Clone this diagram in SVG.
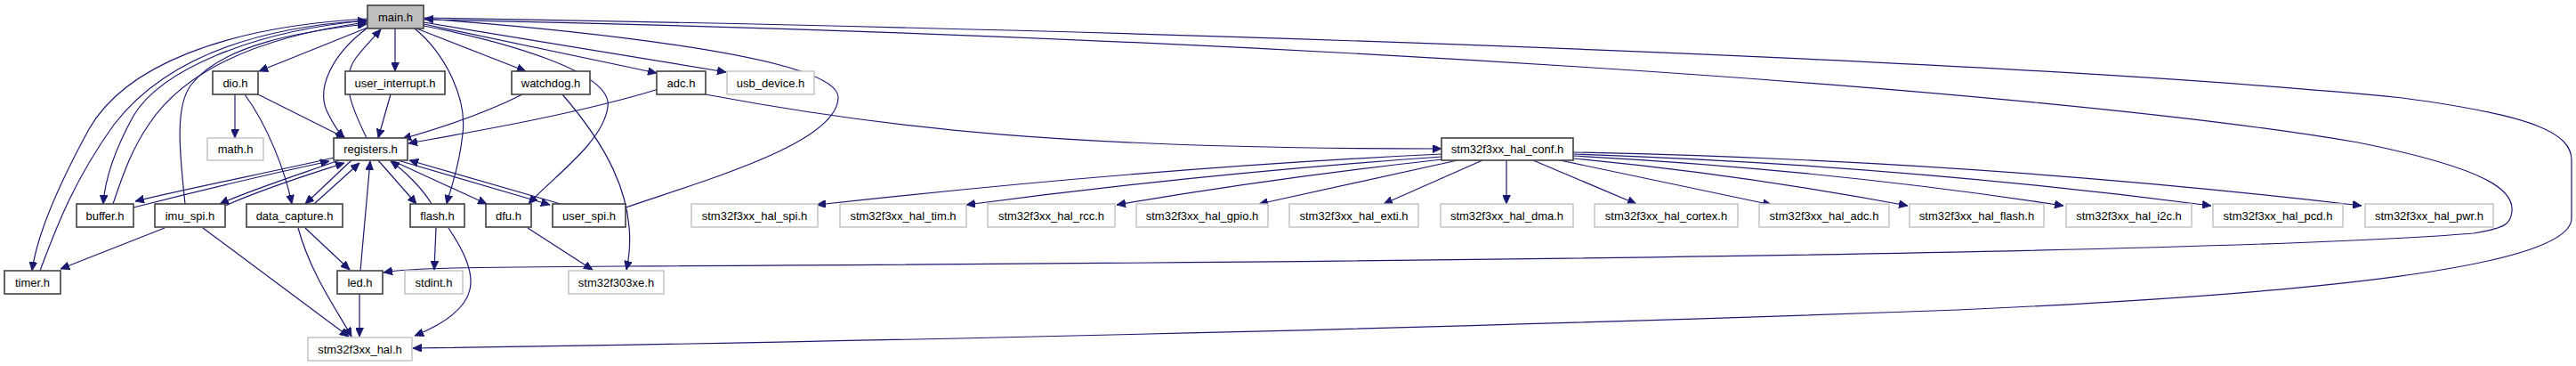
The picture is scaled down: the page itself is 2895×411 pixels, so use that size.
<svg xmlns="http://www.w3.org/2000/svg" width="2895" height="411" viewBox="0 0 2895 411">
<style>
.n rect{fill:#fff;stroke:#404040;stroke-width:1.6}
.n.x rect{stroke:#bfbfbf;stroke-width:1.4}
.n.m rect{fill:#bfbfbf}
.n text{font-family:"Liberation Sans",Arial,sans-serif;font-size:13px;fill:#000;text-anchor:middle}
#edges path{fill:none;stroke:#191970;stroke-width:1.2;marker-end:url(#ah)}
</style>
<defs>
<marker id="ah" markerUnits="userSpaceOnUse" markerWidth="11" markerHeight="9" refX="10" refY="4.5" orient="auto">
<path d="M0,0 L10,4.5 L0,9 z" fill="#191970" stroke="#191970" stroke-width="0.8"/>
</marker>
</defs>
<rect width="2895" height="411" fill="#fff"/>
<g id="edges">
<path d="M413,31 L291,80"/>
<path d="M444,32 L444,80"/>
<path d="M468,32 L591,80"/>
<path d="M476,27 L738,82"/>
<path d="M476,25 L816,81"/>
<path d="M412,32 C375,60 352,100 370,130 C375,140 380,148 387,155"/>
<path d="M466,32 C500,60 525,110 520,150 C516,190 506,212 502,229"/>
<path d="M476,29 C560,45 690,80 683,120 C678,160 620,200 594,229"/>
<path d="M413,21 C250,30 140,75 100,145 C70,200 42,260 36,304"/>
<path d="M413,23 C280,35 180,80 150,130 C128,170 118,200 116,229"/>
<path d="M476,20 C1400,35 2300,70 2700,110 C2850,130 2890,150 2890,180 L2890,245 C2890,300 2600,330 2200,348 C1600,370 900,385 464,391"/>
<path d="M476,22 C1400,40 2300,100 2650,160 C2800,190 2825,215 2823,237 C2822,252 2815,256 2780,262 C2500,285 1500,295 700,299 C520,300 460,301 431,306"/>
<path d="M412,155 C395,120 382,90 400,65 C410,52 420,42 428,33"/>
<path d="M45,304 C65,250 85,200 128,140 C190,60 300,30 412,23"/>
<path d="M127,229 C140,190 150,165 167,140 C210,75 300,40 412,25"/>
<path d="M208,229 C203,180 195,120 215,95 C250,50 340,35 412,27"/>
<path d="M703,233 C800,200 940,160 942,110 C944,60 600,30 477,21"/>
<path d="M264,106 L264,155"/>
<path d="M290,106 L388,155"/>
<path d="M275,106 C300,140 320,190 328,229"/>
<path d="M439,106 L425,155"/>
<path d="M587,106 C540,130 480,148 452,156"/>
<path d="M740,100 C650,128 520,150 459,161"/>
<path d="M632,106 C670,150 722,220 704,303"/>
<path d="M793,106 C1000,145 1200,167 1620,167"/>
<path d="M376,177 C300,194 200,214 152,226"/>
<path d="M150,233 C220,215 300,196 370,181"/>
<path d="M381,180 C330,198 280,214 247,229"/>
<path d="M253,231 C300,210 350,195 387,183"/>
<path d="M395,180 L343,229"/>
<path d="M353,229 L404,183"/>
<path d="M405,304 L416,181"/>
<path d="M425,180 L468,229"/>
<path d="M485,229 C475,212 455,192 439,181"/>
<path d="M440,180 L547,229"/>
<path d="M447,180 L618,230"/>
<path d="M630,229 L460,180"/>
<path d="M185,256 L68,302"/>
<path d="M228,256 L392,378"/>
<path d="M343,256 L393,303"/>
<path d="M335,256 C350,310 380,350 395,378"/>
<path d="M404,330 L404,378"/>
<path d="M490,256 L488,303"/>
<path d="M504,256 C540,310 545,345 466,377"/>
<path d="M593,256 L666,303"/>
<path d="M1620,173 Q1300,188 918,230"/>
<path d="M1620,176 Q1350,195 1086,230"/>
<path d="M1621,179 Q1430,200 1255,230"/>
<path d="M1638,180 L1415,229"/>
<path d="M1666,180 L1555,229"/>
<path d="M1693,180 L1693,229"/>
<path d="M1723,180 L1839,229"/>
<path d="M1753,180 L1991,230"/>
<path d="M1768,178 Q1950,195 2144,231"/>
<path d="M1768,175 Q2050,190 2319,231"/>
<path d="M1768,173 Q2130,185 2485,231"/>
<path d="M1768,171 Q2220,180 2654,231"/>
</g>
<g id="main_h" class="n m"><rect x="413" y="6" width="63" height="26"/><text x="444.5" y="23.5">main.h</text></g>
<g id="dio_h" class="n"><rect x="239" y="80" width="51" height="26"/><text x="264.5" y="97.5">dio.h</text></g>
<g id="user_interrupt_h" class="n"><rect x="388" y="80" width="112" height="26"/><text x="444" y="97.5">user_interrupt.h</text></g>
<g id="watchdog_h" class="n"><rect x="575" y="80" width="88" height="26"/><text x="619" y="97.5">watchdog.h</text></g>
<g id="adc_h" class="n"><rect x="738" y="80" width="55" height="26"/><text x="765.5" y="97.5">adc.h</text></g>
<g id="usb_device_h" class="n x"><rect x="817" y="80" width="98" height="26"/><text x="866" y="97.5">usb_device.h</text></g>
<g id="math_h" class="n x"><rect x="233" y="155" width="63" height="25"/><text x="264.5" y="172">math.h</text></g>
<g id="registers_h" class="n"><rect x="375" y="155" width="83" height="25"/><text x="416.5" y="172">registers.h</text></g>
<g id="hal_conf_h" class="n"><rect x="1620" y="155" width="148" height="25"/><text x="1694" y="172">stm32f3xx_hal_conf.h</text></g>
<g id="buffer_h" class="n"><rect x="86" y="229" width="64" height="26"/><text x="118" y="246.5">buffer.h</text></g>
<g id="imu_spi_h" class="n"><rect x="174" y="229" width="79" height="26"/><text x="213.5" y="246.5">imu_spi.h</text></g>
<g id="data_capture_h" class="n"><rect x="277" y="229" width="108" height="26"/><text x="331" y="246.5">data_capture.h</text></g>
<g id="flash_h" class="n"><rect x="461" y="229" width="61" height="26"/><text x="491.5" y="246.5">flash.h</text></g>
<g id="dfu_h" class="n"><rect x="546" y="229" width="51" height="26"/><text x="571.5" y="246.5">dfu.h</text></g>
<g id="user_spi_h" class="n"><rect x="621" y="229" width="82" height="26"/><text x="662" y="246.5">user_spi.h</text></g>
<g id="hal_spi_h" class="n x"><rect x="777" y="229" width="142" height="26"/><text x="848" y="246.5">stm32f3xx_hal_spi.h</text></g>
<g id="hal_tim_h" class="n x"><rect x="944" y="229" width="142" height="26"/><text x="1015" y="246.5">stm32f3xx_hal_tim.h</text></g>
<g id="hal_rcc_h" class="n x"><rect x="1110" y="229" width="143" height="26"/><text x="1181.5" y="246.5">stm32f3xx_hal_rcc.h</text></g>
<g id="hal_gpio_h" class="n x"><rect x="1277" y="229" width="148" height="26"/><text x="1351" y="246.5">stm32f3xx_hal_gpio.h</text></g>
<g id="hal_exti_h" class="n x"><rect x="1449" y="229" width="145" height="26"/><text x="1521.5" y="246.5">stm32f3xx_hal_exti.h</text></g>
<g id="hal_dma_h" class="n x"><rect x="1619" y="229" width="149" height="26"/><text x="1693.5" y="246.5">stm32f3xx_hal_dma.h</text></g>
<g id="hal_cortex_h" class="n x"><rect x="1792" y="229" width="161" height="26"/><text x="1872.5" y="246.5">stm32f3xx_hal_cortex.h</text></g>
<g id="hal_adc_h" class="n x"><rect x="1977" y="229" width="146" height="26"/><text x="2050" y="246.5">stm32f3xx_hal_adc.h</text></g>
<g id="hal_flash_h" class="n x"><rect x="2146" y="229" width="151" height="26"/><text x="2221.5" y="246.5">stm32f3xx_hal_flash.h</text></g>
<g id="hal_i2c_h" class="n x"><rect x="2322" y="229" width="141" height="26"/><text x="2392.5" y="246.5">stm32f3xx_hal_i2c.h</text></g>
<g id="hal_pcd_h" class="n x"><rect x="2487" y="229" width="146" height="26"/><text x="2560" y="246.5">stm32f3xx_hal_pcd.h</text></g>
<g id="hal_pwr_h" class="n x"><rect x="2658" y="229" width="144" height="26"/><text x="2730" y="246.5">stm32f3xx_hal_pwr.h</text></g>
<g id="timer_h" class="n"><rect x="5" y="304" width="63" height="26"/><text x="36.5" y="321.5">timer.h</text></g>
<g id="led_h" class="n"><rect x="379" y="304" width="51" height="26"/><text x="404.5" y="321.5">led.h</text></g>
<g id="stdint_h" class="n x"><rect x="455" y="304" width="65" height="26"/><text x="487.5" y="321.5">stdint.h</text></g>
<g id="stm32f303xe_h" class="n x"><rect x="639" y="304" width="107" height="26"/><text x="692.5" y="321.5">stm32f303xe.h</text></g>
<g id="stm32f3xx_hal_h" class="n x"><rect x="346" y="379" width="117" height="26"/><text x="404.5" y="396.5">stm32f3xx_hal.h</text></g>
</svg>
